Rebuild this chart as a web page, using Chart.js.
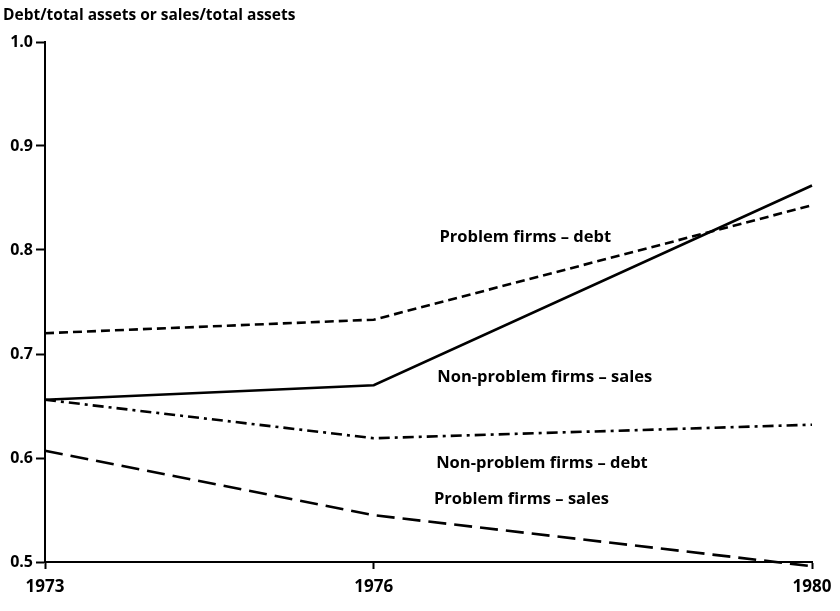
<!DOCTYPE html>
<html>
<head>
<meta charset="utf-8">
<script src="https://cdn.jsdelivr.net/npm/chart.js@4/dist/chart.umd.min.js"></script>
<style>
  html, body { margin: 0; padding: 0; background: #fff; }
  #wrap { position: relative; width: 840px; height: 611px; }
</style>
</head>
<body>
<div id="wrap"><canvas id="chart" width="840" height="611"></canvas></div>
<script>
// Years on the x axis and the tick labels shown
const years = [1973, 1976, 1980];
const yTicks = [0.5, 0.6, 0.7, 0.8, 0.9, 1.0];

// Series values
const problemDebt = [0.720, 0.733, 0.843];
const nonProblemSales = [0.656, 0.670, 0.862];
const nonProblemDebt = [0.656, 0.619, 0.632];
const problemSales = [0.607, 0.545, 0.496];

const seriesNames = [
  'Problem firms \u2013 debt',
  'Non-problem firms \u2013 sales',
  'Non-problem firms \u2013 debt',
  'Problem firms \u2013 sales'
];

const FONT = '"Open Sans", "DejaVu Sans", sans-serif';

function points(values) {
  return values.map((v, i) => ({ x: years[i], y: v }));
}

// Text labels placed next to the lines, in data units
const lineLabels = [
  { text: seriesNames[0], x: 1976.6, y: 0.812 },
  { text: seriesNames[1], x: 1976.58, y: 0.678 },
  { text: seriesNames[2], x: 1976.57, y: 0.595 },
  { text: seriesNames[3], x: 1976.55, y: 0.560 }
];

const textPlugin = {
  id: 'textPlugin',
  afterDraw(chart) {
    const ctx = chart.ctx;
    const xs = chart.scales.x;
    const ys = chart.scales.y;
    ctx.save();
    ctx.fillStyle = '#000';
    // axis title at the top left
    ctx.font = 'bold 15.5px ' + FONT;
    ctx.textBaseline = 'middle';
    ctx.textAlign = 'left';
    ctx.fillText('Debt/total assets or sales/total assets', 3, 16);
    // line labels
    ctx.font = 'bold 16.5px ' + FONT;
    lineLabels.forEach(l => {
      ctx.fillText(l.text, xs.getPixelForValue(l.x), ys.getPixelForValue(l.y));
    });
    ctx.restore();
  }
};

const common = {
  borderColor: '#000',
  borderWidth: 2.6,
  pointRadius: 0,
  fill: false,
  tension: 0,
  clip: false
};

new Chart(document.getElementById('chart'), {
  type: 'line',
  data: {
    datasets: [
      Object.assign({ label: seriesNames[0], data: points(problemDebt), borderDash: [9, 5] }, common),
      Object.assign({ label: seriesNames[1], data: points(nonProblemSales), borderDash: [] }, common),
      Object.assign({ label: seriesNames[2], data: points(nonProblemDebt), borderDash: [11, 5, 3, 5] }, common),
      Object.assign({ label: seriesNames[3], data: points(problemSales), borderDash: [18, 8] }, common)
    ]
  },
  options: {
    responsive: false,
    animation: false,
    layout: { padding: { top: 42, right: 28, left: 0, bottom: 0 } },
    plugins: {
      legend: { display: false },
      tooltip: { enabled: false }
    },
    scales: {
      x: {
        type: 'linear',
        min: years[0],
        max: years[years.length - 1],
        afterBuildTicks(scale) {
          scale.ticks = years.map(v => ({ value: v }));
        },
        afterFit(scale) { scale.height = 49; },
        grid: { drawOnChartArea: false, tickLength: 7, color: '#000', tickWidth: 2 },
        border: { display: true, color: '#000', width: 2 },
        ticks: {
          color: '#000',
          font: { family: FONT, size: 17, weight: 'bold' },
          padding: 8,
          maxRotation: 0,
          callback: v => String(v)
        }
      },
      y: {
        min: 0.5,
        max: 1.0,
        afterBuildTicks(scale) {
          scale.ticks = yTicks.map(v => ({ value: v }));
        },
        afterFit(scale) { scale.width = 45; },
        grid: { drawOnChartArea: false, tickLength: 9, color: '#000', tickWidth: 2 },
        border: { display: true, color: '#000', width: 2 },
        ticks: {
          color: '#000',
          font: { family: FONT, size: 16, weight: 'bold' },
          padding: 3,
          callback: v => v.toFixed(1)
        }
      }
    }
  },
  plugins: [textPlugin]
});
</script>
</body>
</html>
